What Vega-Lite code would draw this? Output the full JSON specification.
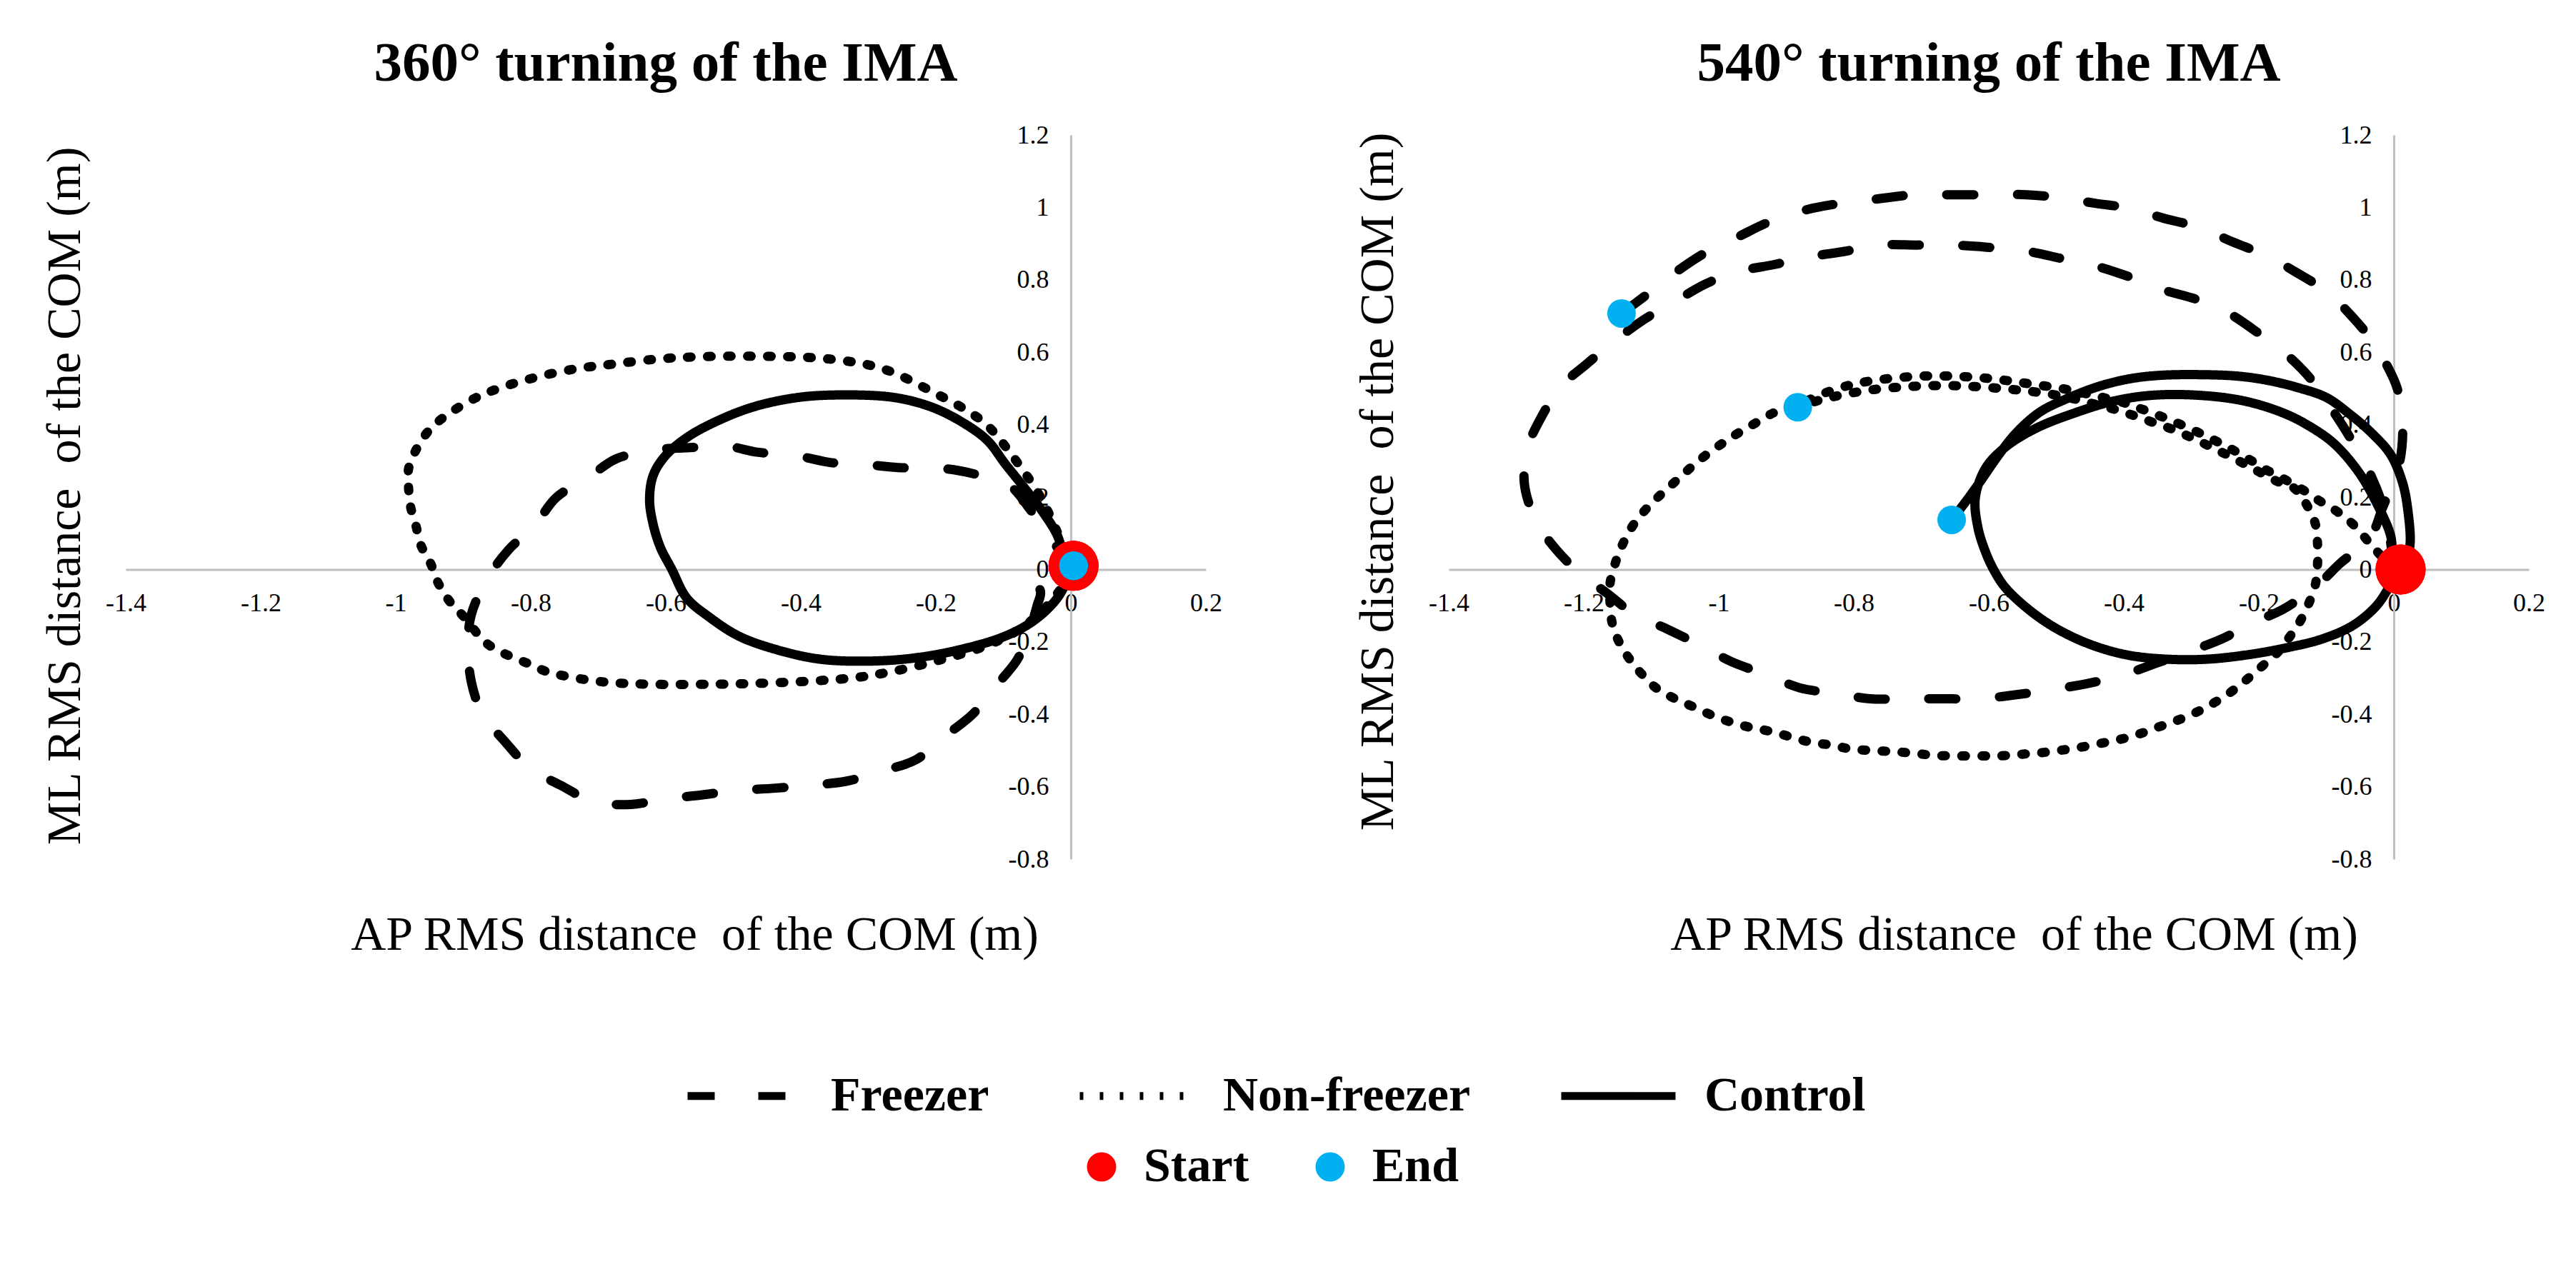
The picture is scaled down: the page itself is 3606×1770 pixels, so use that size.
{
  "$schema": "https://vega.github.io/schema/vega-lite/v6.json",
  "background": "white",
  "padding": {"left": 57, "top": 50, "right": 0, "bottom": 0},
  "config": {
    "font": "Liberation Serif",
    "view": {"stroke": null},
    "axis": {
      "domainColor": "#bfbfbf", "domainWidth": 3, "ticks": false, "tickSize": 0, "grid": false,
      "labelFontSize": 36, "labelFont": "Liberation Serif", "labelColor": "black",
      "labelFlush": false, "labelOverlap": false, "labelBound": false,
      "titleFont": "Liberation Serif", "titleFontSize": 68, "titleFontWeight": "normal", "titleColor": "black",
      "titleBaseline": "middle", "titleAlign": "center"
    },
    "title": {"font": "Liberation Serif", "fontSize": 79, "fontWeight": "bold", "color": "black", "anchor": "middle", "frame": "group", "offset": 41}
  },
  "datasets": {
    "lines360": [
      {"group":"Control","i":1,"ap":0.0,"ml":0.0},
      {"group":"Control","i":2,"ap":-0.009,"ml":0.029},
      {"group":"Control","i":3,"ap":-0.020,"ml":0.094},
      {"group":"Control","i":4,"ap":-0.042,"ml":0.160},
      {"group":"Control","i":5,"ap":-0.069,"ml":0.226},
      {"group":"Control","i":6,"ap":-0.097,"ml":0.291},
      {"group":"Control","i":7,"ap":-0.124,"ml":0.357},
      {"group":"Control","i":8,"ap":-0.163,"ml":0.409},
      {"group":"Control","i":9,"ap":-0.207,"ml":0.449},
      {"group":"Control","i":10,"ap":-0.262,"ml":0.475},
      {"group":"Control","i":11,"ap":-0.338,"ml":0.482},
      {"group":"Control","i":12,"ap":-0.404,"ml":0.475},
      {"group":"Control","i":13,"ap":-0.470,"ml":0.449},
      {"group":"Control","i":14,"ap":-0.525,"ml":0.409},
      {"group":"Control","i":15,"ap":-0.569,"ml":0.364},
      {"group":"Control","i":16,"ap":-0.602,"ml":0.311},
      {"group":"Control","i":17,"ap":-0.619,"ml":0.258},
      {"group":"Control","i":18,"ap":-0.624,"ml":0.192},
      {"group":"Control","i":19,"ap":-0.619,"ml":0.127},
      {"group":"Control","i":20,"ap":-0.608,"ml":0.061},
      {"group":"Control","i":21,"ap":-0.591,"ml":0.0},
      {"group":"Control","i":22,"ap":-0.569,"ml":-0.079},
      {"group":"Control","i":23,"ap":-0.536,"ml":-0.131},
      {"group":"Control","i":24,"ap":-0.492,"ml":-0.184},
      {"group":"Control","i":25,"ap":-0.437,"ml":-0.221},
      {"group":"Control","i":26,"ap":-0.371,"ml":-0.248},
      {"group":"Control","i":27,"ap":-0.295,"ml":-0.253},
      {"group":"Control","i":28,"ap":-0.229,"ml":-0.244},
      {"group":"Control","i":29,"ap":-0.163,"ml":-0.221},
      {"group":"Control","i":30,"ap":-0.097,"ml":-0.184},
      {"group":"Control","i":31,"ap":-0.053,"ml":-0.139},
      {"group":"Control","i":32,"ap":-0.020,"ml":-0.079},
      {"group":"Control","i":33,"ap":-0.003,"ml":-0.019},
      {"group":"Control","i":34,"ap":0.0,"ml":0.0},
      {"group":"Non-freezer","i":1,"ap":0.0,"ml":0.0},
      {"group":"Non-freezer","i":2,"ap":-0.015,"ml":0.08},
      {"group":"Non-freezer","i":3,"ap":-0.045,"ml":0.2},
      {"group":"Non-freezer","i":4,"ap":-0.085,"ml":0.31},
      {"group":"Non-freezer","i":5,"ap":-0.125,"ml":0.40},
      {"group":"Non-freezer","i":6,"ap":-0.163,"ml":0.449},
      {"group":"Non-freezer","i":7,"ap":-0.196,"ml":0.482},
      {"group":"Non-freezer","i":8,"ap":-0.223,"ml":0.508},
      {"group":"Non-freezer","i":9,"ap":-0.251,"ml":0.534},
      {"group":"Non-freezer","i":10,"ap":-0.278,"ml":0.554},
      {"group":"Non-freezer","i":11,"ap":-0.305,"ml":0.567},
      {"group":"Non-freezer","i":12,"ap":-0.338,"ml":0.577},
      {"group":"Non-freezer","i":13,"ap":-0.393,"ml":0.586},
      {"group":"Non-freezer","i":14,"ap":-0.492,"ml":0.589},
      {"group":"Non-freezer","i":15,"ap":-0.558,"ml":0.587},
      {"group":"Non-freezer","i":16,"ap":-0.613,"ml":0.581},
      {"group":"Non-freezer","i":17,"ap":-0.679,"ml":0.567},
      {"group":"Non-freezer","i":18,"ap":-0.734,"ml":0.554},
      {"group":"Non-freezer","i":19,"ap":-0.800,"ml":0.527},
      {"group":"Non-freezer","i":20,"ap":-0.855,"ml":0.495},
      {"group":"Non-freezer","i":21,"ap":-0.888,"ml":0.468},
      {"group":"Non-freezer","i":22,"ap":-0.932,"ml":0.416},
      {"group":"Non-freezer","i":23,"ap":-0.954,"ml":0.377},
      {"group":"Non-freezer","i":24,"ap":-0.970,"ml":0.330},
      {"group":"Non-freezer","i":25,"ap":-0.981,"ml":0.278},
      {"group":"Non-freezer","i":26,"ap":-0.981,"ml":0.226},
      {"group":"Non-freezer","i":27,"ap":-0.978,"ml":0.173},
      {"group":"Non-freezer","i":28,"ap":-0.970,"ml":0.120},
      {"group":"Non-freezer","i":29,"ap":-0.963,"ml":0.068},
      {"group":"Non-freezer","i":30,"ap":-0.948,"ml":0.015},
      {"group":"Non-freezer","i":31,"ap":-0.937,"ml":-0.038},
      {"group":"Non-freezer","i":32,"ap":-0.921,"ml":-0.086},
      {"group":"Non-freezer","i":33,"ap":-0.899,"ml":-0.131},
      {"group":"Non-freezer","i":34,"ap":-0.866,"ml":-0.203},
      {"group":"Non-freezer","i":35,"ap":-0.835,"ml":-0.236},
      {"group":"Non-freezer","i":36,"ap":-0.805,"ml":-0.259},
      {"group":"Non-freezer","i":37,"ap":-0.778,"ml":-0.281},
      {"group":"Non-freezer","i":38,"ap":-0.745,"ml":-0.296},
      {"group":"Non-freezer","i":39,"ap":-0.690,"ml":-0.311},
      {"group":"Non-freezer","i":40,"ap":-0.624,"ml":-0.317},
      {"group":"Non-freezer","i":41,"ap":-0.536,"ml":-0.317},
      {"group":"Non-freezer","i":42,"ap":-0.470,"ml":-0.315},
      {"group":"Non-freezer","i":43,"ap":-0.382,"ml":-0.308},
      {"group":"Non-freezer","i":44,"ap":-0.316,"ml":-0.298},
      {"group":"Non-freezer","i":45,"ap":-0.262,"ml":-0.281},
      {"group":"Non-freezer","i":46,"ap":-0.196,"ml":-0.251},
      {"group":"Non-freezer","i":47,"ap":-0.130,"ml":-0.214},
      {"group":"Non-freezer","i":48,"ap":-0.080,"ml":-0.17},
      {"group":"Non-freezer","i":49,"ap":-0.04,"ml":-0.11},
      {"group":"Non-freezer","i":50,"ap":-0.012,"ml":-0.045},
      {"group":"Non-freezer","i":51,"ap":0.0,"ml":0.0},
      {"group":"Freezer","i":1,"ap":0.0,"ml":0.0},
      {"group":"Freezer","i":2,"ap":-0.02,"ml":0.06},
      {"group":"Freezer","i":3,"ap":-0.04,"ml":0.12},
      {"group":"Freezer","i":4,"ap":-0.058,"ml":0.160},
      {"group":"Freezer","i":5,"ap":-0.091,"ml":0.232},
      {"group":"Freezer","i":6,"ap":-0.146,"ml":0.265},
      {"group":"Freezer","i":7,"ap":-0.185,"ml":0.278},
      {"group":"Freezer","i":8,"ap":-0.251,"ml":0.281},
      {"group":"Freezer","i":9,"ap":-0.295,"ml":0.288},
      {"group":"Freezer","i":10,"ap":-0.355,"ml":0.295},
      {"group":"Freezer","i":11,"ap":-0.404,"ml":0.313},
      {"group":"Freezer","i":12,"ap":-0.465,"ml":0.324},
      {"group":"Freezer","i":13,"ap":-0.509,"ml":0.340},
      {"group":"Freezer","i":14,"ap":-0.569,"ml":0.336},
      {"group":"Freezer","i":15,"ap":-0.619,"ml":0.330},
      {"group":"Freezer","i":16,"ap":-0.674,"ml":0.305},
      {"group":"Freezer","i":17,"ap":-0.712,"ml":0.258},
      {"group":"Freezer","i":18,"ap":-0.762,"ml":0.199},
      {"group":"Freezer","i":19,"ap":-0.795,"ml":0.120},
      {"group":"Freezer","i":20,"ap":-0.833,"ml":0.054},
      {"group":"Freezer","i":21,"ap":-0.866,"ml":-0.031},
      {"group":"Freezer","i":22,"ap":-0.888,"ml":-0.124},
      {"group":"Freezer","i":23,"ap":-0.893,"ml":-0.206},
      {"group":"Freezer","i":24,"ap":-0.888,"ml":-0.311},
      {"group":"Freezer","i":25,"ap":-0.871,"ml":-0.401},
      {"group":"Freezer","i":26,"ap":-0.838,"ml":-0.476},
      {"group":"Freezer","i":27,"ap":-0.800,"ml":-0.551},
      {"group":"Freezer","i":28,"ap":-0.756,"ml":-0.596},
      {"group":"Freezer","i":29,"ap":-0.707,"ml":-0.641},
      {"group":"Freezer","i":30,"ap":-0.652,"ml":-0.649},
      {"group":"Freezer","i":31,"ap":-0.602,"ml":-0.634},
      {"group":"Freezer","i":32,"ap":-0.547,"ml":-0.623},
      {"group":"Freezer","i":33,"ap":-0.498,"ml":-0.611},
      {"group":"Freezer","i":34,"ap":-0.437,"ml":-0.604},
      {"group":"Freezer","i":35,"ap":-0.388,"ml":-0.596},
      {"group":"Freezer","i":36,"ap":-0.333,"ml":-0.585},
      {"group":"Freezer","i":37,"ap":-0.284,"ml":-0.559},
      {"group":"Freezer","i":38,"ap":-0.229,"ml":-0.525},
      {"group":"Freezer","i":39,"ap":-0.190,"ml":-0.465},
      {"group":"Freezer","i":40,"ap":-0.146,"ml":-0.401},
      {"group":"Freezer","i":41,"ap":-0.113,"ml":-0.326},
      {"group":"Freezer","i":42,"ap":-0.080,"ml":-0.251},
      {"group":"Freezer","i":43,"ap":-0.064,"ml":-0.184},
      {"group":"Freezer","i":44,"ap":-0.050,"ml":-0.10},
      {"group":"Freezer","i":45,"ap":-0.045,"ml":-0.06},
      {"group":"Freezer","i":46,"ap":-0.070,"ml":0.005}
    ],
    "pts360": [
      {"kind":"Start","group":"Freezer","ap":0.004,"ml":0.01},
      {"kind":"Start","group":"Non-freezer","ap":0.004,"ml":0.01},
      {"kind":"Start","group":"Control","ap":0.004,"ml":0.01},
      {"kind":"End","group":"Freezer","ap":0.004,"ml":0.01},
      {"kind":"End","group":"Non-freezer","ap":0.004,"ml":0.01},
      {"kind":"End","group":"Control","ap":0.004,"ml":0.01}
    ],
    "lines540": [
      {"group":"Control","i":1,"ap":0.0,"ml":0.0},
      {"group":"Control","i":2,"ap":-0.002,"ml":0.045},
      {"group":"Control","i":3,"ap":-0.005,"ml":0.095},
      {"group":"Control","i":4,"ap":-0.023,"ml":0.174},
      {"group":"Control","i":5,"ap":-0.051,"ml":0.266},
      {"group":"Control","i":6,"ap":-0.087,"ml":0.345},
      {"group":"Control","i":7,"ap":-0.120,"ml":0.390},
      {"group":"Control","i":8,"ap":-0.161,"ml":0.430},
      {"group":"Control","i":9,"ap":-0.221,"ml":0.465},
      {"group":"Control","i":10,"ap":-0.289,"ml":0.481},
      {"group":"Control","i":11,"ap":-0.358,"ml":0.481},
      {"group":"Control","i":12,"ap":-0.415,"ml":0.465},
      {"group":"Control","i":13,"ap":-0.473,"ml":0.432},
      {"group":"Control","i":14,"ap":-0.530,"ml":0.390},
      {"group":"Control","i":15,"ap":-0.576,"ml":0.337},
      {"group":"Control","i":16,"ap":-0.605,"ml":0.279},
      {"group":"Control","i":17,"ap":-0.620,"ml":0.197},
      {"group":"Control","i":18,"ap":-0.616,"ml":0.115},
      {"group":"Control","i":19,"ap":-0.605,"ml":0.049},
      {"group":"Control","i":20,"ap":-0.593,"ml":0.0},
      {"group":"Control","i":21,"ap":-0.576,"ml":-0.049},
      {"group":"Control","i":22,"ap":-0.542,"ml":-0.109},
      {"group":"Control","i":23,"ap":-0.501,"ml":-0.162},
      {"group":"Control","i":24,"ap":-0.450,"ml":-0.207},
      {"group":"Control","i":25,"ap":-0.393,"ml":-0.237},
      {"group":"Control","i":26,"ap":-0.335,"ml":-0.248},
      {"group":"Control","i":27,"ap":-0.278,"ml":-0.248},
      {"group":"Control","i":28,"ap":-0.221,"ml":-0.237},
      {"group":"Control","i":29,"ap":-0.163,"ml":-0.218},
      {"group":"Control","i":30,"ap":-0.106,"ml":-0.192},
      {"group":"Control","i":31,"ap":-0.060,"ml":-0.154},
      {"group":"Control","i":32,"ap":-0.026,"ml":-0.101},
      {"group":"Control","i":33,"ap":-0.007,"ml":-0.049},
      {"group":"Control","i":34,"ap":0.008,"ml":0.0},
      {"group":"Control","i":35,"ap":0.018,"ml":0.025},
      {"group":"Control","i":36,"ap":0.024,"ml":0.069},
      {"group":"Control","i":37,"ap":0.021,"ml":0.160},
      {"group":"Control","i":38,"ap":0.013,"ml":0.239},
      {"group":"Control","i":39,"ap":-0.005,"ml":0.318},
      {"group":"Control","i":40,"ap":-0.033,"ml":0.377},
      {"group":"Control","i":41,"ap":-0.066,"ml":0.430},
      {"group":"Control","i":42,"ap":-0.100,"ml":0.475},
      {"group":"Control","i":43,"ap":-0.140,"ml":0.501},
      {"group":"Control","i":44,"ap":-0.186,"ml":0.522},
      {"group":"Control","i":45,"ap":-0.232,"ml":0.534},
      {"group":"Control","i":46,"ap":-0.289,"ml":0.538},
      {"group":"Control","i":47,"ap":-0.347,"ml":0.536},
      {"group":"Control","i":48,"ap":-0.393,"ml":0.526},
      {"group":"Control","i":49,"ap":-0.438,"ml":0.505},
      {"group":"Control","i":50,"ap":-0.484,"ml":0.472},
      {"group":"Control","i":51,"ap":-0.524,"ml":0.435},
      {"group":"Control","i":52,"ap":-0.559,"ml":0.378},
      {"group":"Control","i":53,"ap":-0.587,"ml":0.312},
      {"group":"Control","i":54,"ap":-0.610,"ml":0.250},
      {"group":"Control","i":55,"ap":-0.633,"ml":0.190},
      {"group":"Control","i":56,"ap":-0.655,"ml":0.137},
      {"group":"Non-freezer","i":1,"ap":0.0,"ml":0.0},
      {"group":"Non-freezer","i":2,"ap":-0.03,"ml":0.06},
      {"group":"Non-freezer","i":3,"ap":-0.06,"ml":0.124},
      {"group":"Non-freezer","i":4,"ap":-0.084,"ml":0.16},
      {"group":"Non-freezer","i":5,"ap":-0.108,"ml":0.187},
      {"group":"Non-freezer","i":6,"ap":-0.134,"ml":0.219},
      {"group":"Non-freezer","i":7,"ap":-0.163,"ml":0.25},
      {"group":"Non-freezer","i":8,"ap":-0.189,"ml":0.275},
      {"group":"Non-freezer","i":9,"ap":-0.215,"ml":0.305},
      {"group":"Non-freezer","i":10,"ap":-0.241,"ml":0.333},
      {"group":"Non-freezer","i":11,"ap":-0.266,"ml":0.357},
      {"group":"Non-freezer","i":12,"ap":-0.295,"ml":0.383},
      {"group":"Non-freezer","i":13,"ap":-0.324,"ml":0.407},
      {"group":"Non-freezer","i":14,"ap":-0.352,"ml":0.428},
      {"group":"Non-freezer","i":15,"ap":-0.381,"ml":0.448},
      {"group":"Non-freezer","i":16,"ap":-0.404,"ml":0.463},
      {"group":"Non-freezer","i":17,"ap":-0.436,"ml":0.477},
      {"group":"Non-freezer","i":18,"ap":-0.467,"ml":0.49},
      {"group":"Non-freezer","i":19,"ap":-0.499,"ml":0.502},
      {"group":"Non-freezer","i":20,"ap":-0.530,"ml":0.51},
      {"group":"Non-freezer","i":21,"ap":-0.559,"ml":0.518},
      {"group":"Non-freezer","i":22,"ap":-0.587,"ml":0.525},
      {"group":"Non-freezer","i":23,"ap":-0.616,"ml":0.53},
      {"group":"Non-freezer","i":24,"ap":-0.657,"ml":0.534},
      {"group":"Non-freezer","i":25,"ap":-0.70,"ml":0.534},
      {"group":"Non-freezer","i":26,"ap":-0.744,"ml":0.528},
      {"group":"Non-freezer","i":27,"ap":-0.777,"ml":0.52},
      {"group":"Non-freezer","i":28,"ap":-0.804,"ml":0.51},
      {"group":"Non-freezer","i":29,"ap":-0.842,"ml":0.488},
      {"group":"Non-freezer","i":30,"ap":-0.883,"ml":0.455},
      {"group":"Non-freezer","i":31,"ap":-0.916,"ml":0.435},
      {"group":"Non-freezer","i":32,"ap":-0.943,"ml":0.407},
      {"group":"Non-freezer","i":33,"ap":-0.970,"ml":0.378},
      {"group":"Non-freezer","i":34,"ap":-0.994,"ml":0.349},
      {"group":"Non-freezer","i":35,"ap":-1.019,"ml":0.316},
      {"group":"Non-freezer","i":36,"ap":-1.043,"ml":0.279},
      {"group":"Non-freezer","i":37,"ap":-1.065,"ml":0.242},
      {"group":"Non-freezer","i":38,"ap":-1.087,"ml":0.205},
      {"group":"Non-freezer","i":39,"ap":-1.109,"ml":0.164},
      {"group":"Non-freezer","i":40,"ap":-1.128,"ml":0.119},
      {"group":"Non-freezer","i":41,"ap":-1.142,"ml":0.071},
      {"group":"Non-freezer","i":42,"ap":-1.153,"ml":0.019},
      {"group":"Non-freezer","i":43,"ap":-1.161,"ml":-0.038},
      {"group":"Non-freezer","i":44,"ap":-1.161,"ml":-0.094},
      {"group":"Non-freezer","i":45,"ap":-1.158,"ml":-0.147},
      {"group":"Non-freezer","i":46,"ap":-1.148,"ml":-0.199},
      {"group":"Non-freezer","i":47,"ap":-1.132,"ml":-0.248},
      {"group":"Non-freezer","i":48,"ap":-1.114,"ml":-0.289},
      {"group":"Non-freezer","i":49,"ap":-1.093,"ml":-0.327},
      {"group":"Non-freezer","i":50,"ap":-1.065,"ml":-0.357},
      {"group":"Non-freezer","i":51,"ap":-1.038,"ml":-0.379},
      {"group":"Non-freezer","i":52,"ap":-1.011,"ml":-0.402},
      {"group":"Non-freezer","i":53,"ap":-0.983,"ml":-0.421},
      {"group":"Non-freezer","i":54,"ap":-0.954,"ml":-0.436},
      {"group":"Non-freezer","i":55,"ap":-0.924,"ml":-0.447},
      {"group":"Non-freezer","i":56,"ap":-0.894,"ml":-0.462},
      {"group":"Non-freezer","i":57,"ap":-0.864,"ml":-0.477},
      {"group":"Non-freezer","i":58,"ap":-0.834,"ml":-0.485},
      {"group":"Non-freezer","i":59,"ap":-0.804,"ml":-0.496},
      {"group":"Non-freezer","i":60,"ap":-0.774,"ml":-0.500},
      {"group":"Non-freezer","i":61,"ap":-0.744,"ml":-0.503},
      {"group":"Non-freezer","i":62,"ap":-0.714,"ml":-0.507},
      {"group":"Non-freezer","i":63,"ap":-0.684,"ml":-0.513},
      {"group":"Non-freezer","i":64,"ap":-0.654,"ml":-0.515},
      {"group":"Non-freezer","i":65,"ap":-0.616,"ml":-0.515},
      {"group":"Non-freezer","i":66,"ap":-0.585,"ml":-0.515},
      {"group":"Non-freezer","i":67,"ap":-0.556,"ml":-0.511},
      {"group":"Non-freezer","i":68,"ap":-0.527,"ml":-0.507},
      {"group":"Non-freezer","i":69,"ap":-0.496,"ml":-0.500},
      {"group":"Non-freezer","i":70,"ap":-0.467,"ml":-0.492},
      {"group":"Non-freezer","i":71,"ap":-0.436,"ml":-0.481},
      {"group":"Non-freezer","i":72,"ap":-0.407,"ml":-0.470},
      {"group":"Non-freezer","i":73,"ap":-0.378,"ml":-0.455},
      {"group":"Non-freezer","i":74,"ap":-0.350,"ml":-0.436},
      {"group":"Non-freezer","i":75,"ap":-0.321,"ml":-0.417},
      {"group":"Non-freezer","i":76,"ap":-0.292,"ml":-0.394},
      {"group":"Non-freezer","i":77,"ap":-0.266,"ml":-0.368},
      {"group":"Non-freezer","i":78,"ap":-0.241,"ml":-0.338},
      {"group":"Non-freezer","i":79,"ap":-0.218,"ml":-0.304},
      {"group":"Non-freezer","i":80,"ap":-0.195,"ml":-0.267},
      {"group":"Non-freezer","i":81,"ap":-0.170,"ml":-0.225},
      {"group":"Non-freezer","i":82,"ap":-0.155,"ml":-0.188},
      {"group":"Non-freezer","i":83,"ap":-0.140,"ml":-0.147},
      {"group":"Non-freezer","i":84,"ap":-0.126,"ml":-0.094},
      {"group":"Non-freezer","i":85,"ap":-0.116,"ml":-0.04},
      {"group":"Non-freezer","i":86,"ap":-0.113,"ml":0.016},
      {"group":"Non-freezer","i":87,"ap":-0.113,"ml":0.069},
      {"group":"Non-freezer","i":88,"ap":-0.116,"ml":0.124},
      {"group":"Non-freezer","i":89,"ap":-0.128,"ml":0.175},
      {"group":"Non-freezer","i":90,"ap":-0.148,"ml":0.225},
      {"group":"Non-freezer","i":91,"ap":-0.175,"ml":0.245},
      {"group":"Non-freezer","i":92,"ap":-0.205,"ml":0.275},
      {"group":"Non-freezer","i":93,"ap":-0.235,"ml":0.305},
      {"group":"Non-freezer","i":94,"ap":-0.265,"ml":0.333},
      {"group":"Non-freezer","i":95,"ap":-0.295,"ml":0.36},
      {"group":"Non-freezer","i":96,"ap":-0.325,"ml":0.385},
      {"group":"Non-freezer","i":97,"ap":-0.355,"ml":0.405},
      {"group":"Non-freezer","i":98,"ap":-0.385,"ml":0.425},
      {"group":"Non-freezer","i":99,"ap":-0.415,"ml":0.443},
      {"group":"Non-freezer","i":100,"ap":-0.45,"ml":0.46},
      {"group":"Non-freezer","i":101,"ap":-0.49,"ml":0.478},
      {"group":"Non-freezer","i":102,"ap":-0.53,"ml":0.49},
      {"group":"Non-freezer","i":103,"ap":-0.57,"ml":0.498},
      {"group":"Non-freezer","i":104,"ap":-0.62,"ml":0.505},
      {"group":"Non-freezer","i":105,"ap":-0.67,"ml":0.508},
      {"group":"Non-freezer","i":106,"ap":-0.72,"ml":0.505},
      {"group":"Non-freezer","i":107,"ap":-0.77,"ml":0.497},
      {"group":"Non-freezer","i":108,"ap":-0.81,"ml":0.485},
      {"group":"Non-freezer","i":109,"ap":-0.85,"ml":0.468},
      {"group":"Non-freezer","i":110,"ap":-0.880,"ml":0.450},
      {"group":"Freezer","i":1,"ap":0.0,"ml":0.0},
      {"group":"Freezer","i":2,"ap":-0.006,"ml":0.09},
      {"group":"Freezer","i":3,"ap":-0.016,"ml":0.174},
      {"group":"Freezer","i":4,"ap":-0.037,"ml":0.272},
      {"group":"Freezer","i":5,"ap":-0.07,"ml":0.38},
      {"group":"Freezer","i":6,"ap":-0.10,"ml":0.465},
      {"group":"Freezer","i":7,"ap":-0.123,"ml":0.526},
      {"group":"Freezer","i":8,"ap":-0.158,"ml":0.592},
      {"group":"Freezer","i":9,"ap":-0.198,"ml":0.649},
      {"group":"Freezer","i":10,"ap":-0.244,"ml":0.707},
      {"group":"Freezer","i":11,"ap":-0.289,"ml":0.744},
      {"group":"Freezer","i":12,"ap":-0.341,"ml":0.772},
      {"group":"Freezer","i":13,"ap":-0.387,"ml":0.805},
      {"group":"Freezer","i":14,"ap":-0.441,"ml":0.838},
      {"group":"Freezer","i":15,"ap":-0.493,"ml":0.859},
      {"group":"Freezer","i":16,"ap":-0.544,"ml":0.879},
      {"group":"Freezer","i":17,"ap":-0.603,"ml":0.890},
      {"group":"Freezer","i":18,"ap":-0.657,"ml":0.896},
      {"group":"Freezer","i":19,"ap":-0.706,"ml":0.896},
      {"group":"Freezer","i":20,"ap":-0.763,"ml":0.896},
      {"group":"Freezer","i":21,"ap":-0.812,"ml":0.879},
      {"group":"Freezer","i":22,"ap":-0.867,"ml":0.863},
      {"group":"Freezer","i":23,"ap":-0.918,"ml":0.842},
      {"group":"Freezer","i":24,"ap":-0.973,"ml":0.822},
      {"group":"Freezer","i":25,"ap":-1.019,"ml":0.789},
      {"group":"Freezer","i":26,"ap":-1.065,"ml":0.740},
      {"group":"Freezer","i":27,"ap":-1.111,"ml":0.690},
      {"group":"Freezer","i":28,"ap":-1.150,"ml":0.637},
      {"group":"Freezer","i":29,"ap":-1.196,"ml":0.567},
      {"group":"Freezer","i":30,"ap":-1.234,"ml":0.505},
      {"group":"Freezer","i":31,"ap":-1.261,"ml":0.427},
      {"group":"Freezer","i":32,"ap":-1.283,"ml":0.337},
      {"group":"Freezer","i":33,"ap":-1.288,"ml":0.238},
      {"group":"Freezer","i":34,"ap":-1.272,"ml":0.140},
      {"group":"Freezer","i":35,"ap":-1.245,"ml":0.064},
      {"group":"Freezer","i":36,"ap":-1.207,"ml":-0.008},
      {"group":"Freezer","i":37,"ap":-1.164,"ml":-0.068},
      {"group":"Freezer","i":38,"ap":-1.125,"ml":-0.124},
      {"group":"Freezer","i":39,"ap":-1.076,"ml":-0.165},
      {"group":"Freezer","i":40,"ap":-1.027,"ml":-0.210},
      {"group":"Freezer","i":41,"ap":-0.981,"ml":-0.255},
      {"group":"Freezer","i":42,"ap":-0.932,"ml":-0.289},
      {"group":"Freezer","i":43,"ap":-0.880,"ml":-0.327},
      {"group":"Freezer","i":44,"ap":-0.829,"ml":-0.342},
      {"group":"Freezer","i":45,"ap":-0.776,"ml":-0.357},
      {"group":"Freezer","i":46,"ap":-0.722,"ml":-0.357},
      {"group":"Freezer","i":47,"ap":-0.673,"ml":-0.357},
      {"group":"Freezer","i":48,"ap":-0.614,"ml":-0.357},
      {"group":"Freezer","i":49,"ap":-0.559,"ml":-0.346},
      {"group":"Freezer","i":50,"ap":-0.504,"ml":-0.331},
      {"group":"Freezer","i":51,"ap":-0.456,"ml":-0.316},
      {"group":"Freezer","i":52,"ap":-0.404,"ml":-0.293},
      {"group":"Freezer","i":53,"ap":-0.352,"ml":-0.259},
      {"group":"Freezer","i":54,"ap":-0.307,"ml":-0.229},
      {"group":"Freezer","i":55,"ap":-0.255,"ml":-0.192},
      {"group":"Freezer","i":56,"ap":-0.209,"ml":-0.147},
      {"group":"Freezer","i":57,"ap":-0.163,"ml":-0.109},
      {"group":"Freezer","i":58,"ap":-0.112,"ml":-0.041},
      {"group":"Freezer","i":59,"ap":-0.080,"ml":0.016},
      {"group":"Freezer","i":60,"ap":-0.035,"ml":0.089},
      {"group":"Freezer","i":61,"ap":-0.016,"ml":0.174},
      {"group":"Freezer","i":62,"ap":-0.003,"ml":0.233},
      {"group":"Freezer","i":63,"ap":0.009,"ml":0.300},
      {"group":"Freezer","i":64,"ap":0.013,"ml":0.400},
      {"group":"Freezer","i":65,"ap":0.005,"ml":0.500},
      {"group":"Freezer","i":66,"ap":-0.012,"ml":0.570},
      {"group":"Freezer","i":67,"ap":-0.030,"ml":0.627},
      {"group":"Freezer","i":68,"ap":-0.066,"ml":0.707},
      {"group":"Freezer","i":69,"ap":-0.100,"ml":0.768},
      {"group":"Freezer","i":70,"ap":-0.146,"ml":0.822},
      {"group":"Freezer","i":71,"ap":-0.189,"ml":0.867},
      {"group":"Freezer","i":72,"ap":-0.238,"ml":0.904},
      {"group":"Freezer","i":73,"ap":-0.289,"ml":0.945},
      {"group":"Freezer","i":74,"ap":-0.341,"ml":0.970},
      {"group":"Freezer","i":75,"ap":-0.393,"ml":0.998},
      {"group":"Freezer","i":76,"ap":-0.441,"ml":1.011},
      {"group":"Freezer","i":77,"ap":-0.496,"ml":1.027},
      {"group":"Freezer","i":78,"ap":-0.544,"ml":1.035},
      {"group":"Freezer","i":79,"ap":-0.599,"ml":1.035},
      {"group":"Freezer","i":80,"ap":-0.657,"ml":1.035},
      {"group":"Freezer","i":81,"ap":-0.711,"ml":1.035},
      {"group":"Freezer","i":82,"ap":-0.766,"ml":1.023},
      {"group":"Freezer","i":83,"ap":-0.820,"ml":1.011},
      {"group":"Freezer","i":84,"ap":-0.869,"ml":0.994},
      {"group":"Freezer","i":85,"ap":-0.924,"ml":0.961},
      {"group":"Freezer","i":86,"ap":-0.970,"ml":0.920},
      {"group":"Freezer","i":87,"ap":-1.016,"ml":0.879},
      {"group":"Freezer","i":88,"ap":-1.060,"ml":0.826},
      {"group":"Freezer","i":89,"ap":-1.103,"ml":0.764},
      {"group":"Freezer","i":90,"ap":-1.144,"ml":0.707}
    ],
    "pts540": [
      {"kind":"Start","group":"Freezer","ap":0.01,"ml":0.0},
      {"kind":"Start","group":"Non-freezer","ap":0.01,"ml":0.0},
      {"kind":"Start","group":"Control","ap":0.01,"ml":0.0},
      {"kind":"End","group":"Freezer","ap":-1.144,"ml":0.707},
      {"kind":"End","group":"Non-freezer","ap":-0.883,"ml":0.448},
      {"kind":"End","group":"Control","ap":-0.655,"ml":0.137}
    ]
  },
  "bounds": "flush",
  "spacing": 340,
  "resolve": {
    "scale": {"strokeDash": "shared", "color": "shared"},
    "legend": {"strokeDash": "shared", "color": "shared"}
  },
  "hconcat": [
    {
      "width": 1512,
      "height": 1014,
      "title": {"text": "360° turning of the IMA"},
      "encoding": {
        "x": {"field": "ap", "type": "quantitative",
          "scale": {"domain": [-1.4, 0.2], "nice": false, "zero": false},
          "axis": {"title": "AP RMS distance\u00a0 of the COM (m)", "orient": "bottom", "offset": -405.6,
            "values": [-1.4, -1.2, -1, -0.8, -0.6, -0.4, -0.2, 0, 0.2], "labelExpr": "toString(datum.value)",
            "labelPadding": 47, "labelBaseline": "middle", "titleX": 796, "titleY": 512}},
        "y": {"field": "ml", "type": "quantitative",
          "scale": {"domain": [-0.8, 1.2], "nice": false, "zero": false},
          "axis": {"title": "ML RMS distance\u00a0 of the COM (m)", "orient": "left", "offset": -1323,
            "values": [-0.8, -0.6, -0.4, -0.2, 0, 0.2, 0.4, 0.6, 0.8, 1, 1.2], "labelExpr": "toString(datum.value)",
            "labelPadding": 31, "titleX": -1408, "titleY": 505, "titleAngle": -90}}
      },
      "layer": [
        {
          "data": {"name": "lines360"},
          "mark": {"type": "line", "color": "black", "strokeWidth": 13, "strokeCap": "round", "strokeJoin": "round", "interpolate": "catmull-rom"},
          "encoding": {
            "order": {"field": "i", "type": "quantitative"},
            "strokeDash": {"field": "group", "type": "nominal",
              "scale": {"domain": ["Freezer", "Non-freezer", "Control"], "range": [[38, 61], [5, 23], [1, 0]]},
              "legend": {"orient": "none", "legendX": 781, "legendY": 1260, "direction": "horizontal", "title": null,
                "symbolType": "stroke", "symbolSize": 25600, "symbolStrokeWidth": 11, "symbolStrokeColor": "black",
                "labelFont": "Liberation Serif", "labelFontSize": 68, "labelFontWeight": "bold", "labelColor": "black",
                "labelOffset": 35, "columnPadding": 104, "labelLimit": 0, "padding": 0}}
          }
        },
        {
          "data": {"name": "pts360"},
          "transform": [{"filter": "datum.kind === 'Start'"}],
          "mark": {"type": "circle", "opacity": 1, "size": 4900},
          "encoding": {
            "color": {"field": "kind", "type": "nominal",
              "scale": {"domain": ["Start", "End"], "range": ["#ff0000", "#00b0f0"]},
              "legend": {"orient": "none", "legendX": 1332, "legendY": 1411, "direction": "horizontal", "title": null,
                "symbolType": "circle", "symbolSize": 1681, "symbolOpacity": 1, "symbolStrokeWidth": 0,
                "labelFont": "Liberation Serif", "labelFontSize": 68, "labelFontWeight": "bold", "labelColor": "black",
                "labelOffset": 25, "columnPadding": 79, "labelLimit": 0, "padding": 0}}
          }
        },
        {
          "data": {"name": "pts360"},
          "transform": [{"filter": "datum.kind === 'End'"}],
          "mark": {"type": "circle", "opacity": 1, "size": 1600},
          "encoding": {
            "color": {"field": "kind", "type": "nominal"}
          }
        }
      ]
    },
    {
      "width": 1512,
      "height": 1014,
      "title": {"text": "540° turning of the IMA"},
      "encoding": {
        "x": {"field": "ap", "type": "quantitative",
          "scale": {"domain": [-1.4, 0.2], "nice": false, "zero": false},
          "axis": {"title": "AP RMS distance\u00a0 of the COM (m)", "orient": "bottom", "offset": -405.6,
            "values": [-1.4, -1.2, -1, -0.8, -0.6, -0.4, -0.2, 0, 0.2], "labelExpr": "toString(datum.value)",
            "labelPadding": 47, "labelBaseline": "middle", "titleX": 791, "titleY": 512}},
        "y": {"field": "ml", "type": "quantitative",
          "scale": {"domain": [-0.8, 1.2], "nice": false, "zero": false},
          "axis": {"title": "ML RMS distance\u00a0 of the COM (m)", "orient": "left", "offset": -1323,
            "values": [-0.8, -0.6, -0.4, -0.2, 0, 0.2, 0.4, 0.6, 0.8, 1, 1.2], "labelExpr": "toString(datum.value)",
            "labelPadding": 31, "titleX": -1422, "titleY": 485, "titleAngle": -90}}
      },
      "layer": [
        {
          "data": {"name": "lines540"},
          "mark": {"type": "line", "color": "black", "strokeWidth": 13, "strokeCap": "round", "strokeJoin": "round", "interpolate": "catmull-rom"},
          "encoding": {
            "order": {"field": "i", "type": "quantitative"},
            "strokeDash": {"field": "group", "type": "nominal"}
          }
        },
        {
          "data": {"name": "pts540"},
          "transform": [{"filter": "datum.kind === 'Start'"}],
          "mark": {"type": "circle", "opacity": 1, "size": 4900},
          "encoding": {
            "color": {"field": "kind", "type": "nominal"}
          }
        },
        {
          "data": {"name": "pts540"},
          "transform": [{"filter": "datum.kind === 'End'"}],
          "mark": {"type": "circle", "opacity": 1, "size": 1600},
          "encoding": {
            "color": {"field": "kind", "type": "nominal"}
          }
        }
      ]
    }
  ]
}
